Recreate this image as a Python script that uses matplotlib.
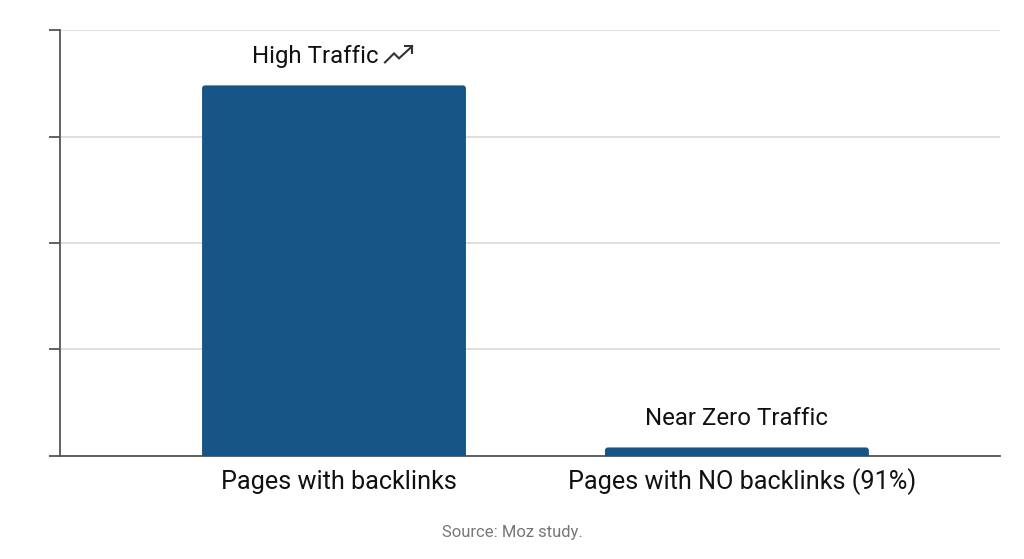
import matplotlib.pyplot as plt
import matplotlib.transforms as mtransforms
import matplotlib.lines as mlines
from matplotlib.patches import FancyBboxPatch

categories = ["Pages with backlinks", "Pages with NO backlinks (91%)"]
traffic = [87, 2]
bar_labels = ["High Traffic", "Near Zero Traffic"]
source = "Source: Moz study."

plt.rcParams['font.family'] = ['Roboto', 'DejaVu Sans']

fig = plt.figure(figsize=(10.24, 5.59), dpi=100)
ax = fig.add_axes([0.0586, 0.1843, 0.918, 0.7620])

bar_color = "#175587"
bar_w = 0.655
x = list(range(len(categories)))
ax.set_xlim(-0.680, 1.653)
ax.set_ylim(0, 100)

# bars with slightly rounded tops (bottom pushed below 0 so it's clipped square)
rects = ax.bar(x, traffic, width=bar_w, color=bar_color, zorder=3)
for rect in rects:
    rect.set_visible(False)
    p = FancyBboxPatch((rect.get_x(), -2), rect.get_width(), rect.get_height() + 2,
                       boxstyle="round,pad=0,rounding_size=0.0075",
                       mutation_aspect=94.6,
                       facecolor=bar_color, edgecolor="none", zorder=3)
    ax.add_patch(p)

ax.set_yticks([0, 25, 50, 75, 100])
ax.set_yticklabels([])
ax.yaxis.grid(True, color="#d6d6d6", linewidth=1.1, zorder=0)
ax.tick_params(axis='y', length=8, width=1.3, color="#555555")
ax.set_xticks(x)
ax.set_xticklabels([])
ax.tick_params(axis='x', length=0)

# category labels on a common baseline under the axis
cat_tr = mtransforms.offset_copy(ax.get_xaxis_transform(), fig=fig, x=5, y=-33, units='dots')
for xi, cat in zip(x, categories):
    ax.text(xi, 0, cat, transform=cat_tr, ha='center', va='baseline',
            fontsize=18.2, color="#111111")

for s in ["top", "right"]:
    ax.spines[s].set_visible(False)
for s in ["left", "bottom"]:
    ax.spines[s].set_color("#555555")
    ax.spines[s].set_linewidth(1.3)

label_dx = [-13.7, 0]
for xi, v, lab, dx in zip(x, traffic, bar_labels, label_dx):
    ax.annotate(lab, xy=(xi, v), xytext=(dx, 12.5), textcoords='offset points',
                ha='center', va='bottom', fontsize=17.3, color="#111111")

# "trending up" icon after the first label, in pixel offsets from the bar top
icon_tr = (mtransforms.Affine2D().translate(51, 23)
           + mtransforms.ScaledTranslation(x[0], traffic[0], ax.transData))
icon_x = [0, 9, 14, 27]
icon_y = [0, 9, 4, 16]
ax.add_line(mlines.Line2D(icon_x, icon_y, color="#333333", lw=1.5, clip_on=False,
                          solid_joinstyle='miter', transform=icon_tr))
ax.add_line(mlines.Line2D([20, 27, 27], [16, 16, 9], color="#333333", lw=1.5,
                          clip_on=False, solid_joinstyle='miter', transform=icon_tr))

fig.text(0.5, 0.048, source, ha='center', va='center', fontsize=12, color="#777777")

fig.savefig("out.png", dpi=100, facecolor="white")
